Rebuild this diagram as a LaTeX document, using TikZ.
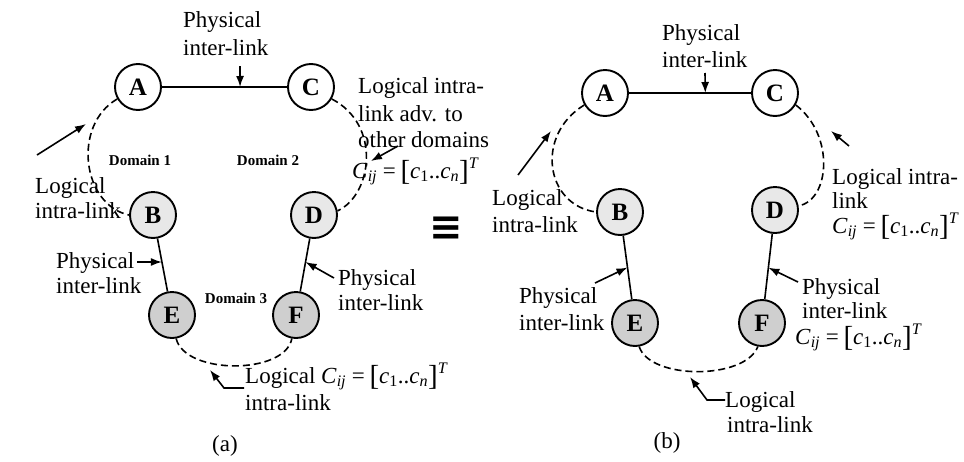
\documentclass[tikz,border=0pt]{standalone}
\usepackage{amsmath}
\usepackage{fontspec}
\setmainfont{Liberation Serif}
\newfontfamily\symfnt{DejaVu Sans}
\usetikzlibrary{arrows.meta,calc}
\newcommand{\Cform}{\textit{C}\textsubscript{\textit{ij}}\hspace{0.25em}=\hspace{0.2em}\raisebox{-0.1em}{\fontsize{29}{29}\selectfont[}\textit{c}\textsubscript{1}..\textit{c}\textsubscript{\textit{n}}\raisebox{-0.1em}{\fontsize{29}{29}\selectfont]}\textsuperscript{\textit{T}}}
\tikzset{
  nd/.style={circle, draw, line width=1.9pt, minimum size=46pt, inner sep=0pt, font=\fontsize{25}{25}\selectfont\bfseries},
  lgt/.style={nd, fill=gray!18},
  dgt/.style={nd, fill=gray!38},
  txt/.style={inner sep=0pt, font=\fontsize{23}{27}\selectfont},
  dom/.style={inner sep=0pt, font=\fontsize{15}{15}\selectfont\bfseries},
  ptr/.style={-{Latex[length=11pt,width=8pt]}, line width=1.6pt},
  phys/.style={line width=1.6pt},
  logi/.style={line width=1.6pt, dash pattern=on 7pt off 4pt}
}
\begin{document}
\begin{tikzpicture}[x=1pt,y=-1pt]
\useasboundingbox (0,0) rectangle (964,461);
\fill[white] (0,0) rectangle (964,461);
% ---------------- panel (a)
\node[nd]  (A1) at (138,87)  {A};
\node[nd]  (C1) at (311,87)  {C};
\node[lgt] (B1) at (153,215) {B};
\node[lgt] (D1) at (314,215) {D};
\node[dgt] (E1) at (172,315) {E};
\node[dgt] (F1) at (296,315) {F};
\draw[phys] (A1) -- (C1);
\draw[phys] (B1) -- (E1);
\draw[phys] (D1) -- (F1);
\draw[logi] (A1.210) .. controls (72,125) and (82,205) .. (B1.180);
\draw[logi] (C1.330) .. controls (382,125) and (372,195) .. (D1.10);
\draw[logi] (E1.280) .. controls (185,375) and (285,375) .. (F1.260);

\node[txt, anchor=base west] (ta1) at (183,27) {Physical};
\node[txt, anchor=base west] (ta2) at (183,55) {inter-link};
\coordinate (ta-t) at (240,66);
\coordinate (ta-h) at ($(A1)!0.59!(C1)$);
\draw[ptr] (ta-t) -- (ta-h);

\node[dom] (dm1) at (140,160) {Domain 1};
\node[dom] (dm2) at (268,160) {Domain 2};
\node[dom] (dm3) at (236,298) {Domain 3};

\node[txt, anchor=base west] (la1) at (35,193) {Logical};
\node[txt, anchor=base west] (la2) at (35,218) {intra-link};
\coordinate (la-t) at (37,155);
\coordinate (la-h) at (86,124);
\draw[ptr] (la-t) -- (la-h);

\node[txt, anchor=base west] (ra1) at (358,93) {Logical intra-};
\node[txt, anchor=base west] (ra2) at (358,121) {link adv. to};
\node[txt, anchor=base west] (ra3) at (358,147) {other domains};
\coordinate (ra-t) at (398,146);
\coordinate (ra-h) at (371,161);
\draw[ptr] (ra-t) -- (ra-h);
\node[txt, anchor=base west] (fa1) at (352,178) {\Cform};

\node[font=\symfnt\bfseries\fontsize{40}{40}\selectfont, inner sep=0pt] (eq) at (446,229) {≡};

\node[txt, anchor=base west] (pa1) at (56,268) {Physical};
\node[txt, anchor=base west] (pa2) at (56,293) {inter-link};
\coordinate (pa-t) at (137,262);
\coordinate (pa-h) at ($(B1)!0.47!(E1)$);
\draw[ptr] (pa-t) -- (pa-h);

\node[txt, anchor=base west] (qa1) at (338,285) {Physical};
\node[txt, anchor=base west] (qa2) at (338,310) {inter-link};
\coordinate (qa-t) at (334,278);
\coordinate (qa-h) at ($(D1)!0.47!(F1)$);
\draw[ptr] (qa-t) -- (qa-h);

\node[txt, anchor=base west] (ba1) at (245,383) {Logical \Cform};
\node[txt, anchor=base west] (ba2) at (245,410) {intra-link};
\coordinate (ba-t) at (244,388);
\coordinate (ba-m) at (224,388);
\coordinate (ba-h) at (210,370);
\draw[ptr] (ba-t) -- (ba-m) -- (ba-h);

\node[txt, anchor=base] (capa) at (225,451) {(a)};

% ---------------- panel (b)
\node[nd]  (A2) at (605,93)  {A};
\node[nd]  (C2) at (775,93)  {C};
\node[lgt] (B2) at (620,212) {B};
\node[lgt] (D2) at (775,210) {D};
\node[dgt] (E2) at (635,323) {E};
\node[dgt] (F2) at (762,323) {F};
\draw[phys] (A2) -- (C2);
\draw[phys] (B2) -- (E2);
\draw[phys] (D2) -- (F2);
\draw[logi] (A2.210) .. controls (535,135) and (545,205) .. (B2.180);
\draw[logi] (C2.330) .. controls (835,135) and (830,200) .. (D2.10);
\draw[logi] (E2.280) .. controls (650,380) and (745,380) .. (F2.260);

\node[txt, anchor=base west] (tb1) at (662,40) {Physical};
\node[txt, anchor=base west] (tb2) at (662,67) {inter-link};
\coordinate (tb-t) at (705,73);
\coordinate (tb-h) at ($(A2)!0.59!(C2)$);
\draw[ptr] (tb-t) -- (tb-h);

\node[txt, anchor=base west] (lb1) at (492,205) {Logical};
\node[txt, anchor=base west] (lb2) at (492,232) {intra-link};
\coordinate (lb-t) at (518,175);
\coordinate (lb-h) at (551,131);
\draw[ptr] (lb-t) -- (lb-h);

\node[txt, anchor=base west] (rb1) at (832,184) {Logical intra-};
\node[txt, anchor=base west] (rb2) at (832,208) {link};
\node[txt, anchor=base west] (rb3) at (832,233) {\Cform};
\coordinate (rb-t) at (849,146);
\coordinate (rb-h) at (831,131);
\draw[ptr] (rb-t) -- (rb-h);

\node[txt, anchor=base west] (pb1) at (519,303) {Physical};
\node[txt, anchor=base west] (pb2) at (519,330) {inter-link};
\coordinate (pb-t) at (595,283);
\coordinate (pb-h) at ($(B2)!0.5!(E2)$);
\draw[ptr] (pb-t) -- (pb-h);

\node[txt, anchor=base west] (qb1) at (802,294) {Physical};
\node[txt, anchor=base west] (qb2) at (802,318) {inter-link};
\node[txt, anchor=base west] (qb3) at (795,344) {\Cform};
\coordinate (qb-t) at (798,282);
\coordinate (qb-h) at ($(D2)!0.51!(F2)$);
\draw[ptr] (qb-t) -- (qb-h);

\node[txt, anchor=base west] (bb1) at (725,407) {Logical};
\node[txt, anchor=base west] (bb2) at (727,432) {intra-link};
\coordinate (bb-t) at (725,400);
\coordinate (bb-m) at (707,400);
\coordinate (bb-h) at (690,377);
\draw[ptr] (bb-t) -- (bb-m) -- (bb-h);

\node[txt, anchor=base] (capb) at (667,448) {(b)};
\end{tikzpicture}
\end{document}
